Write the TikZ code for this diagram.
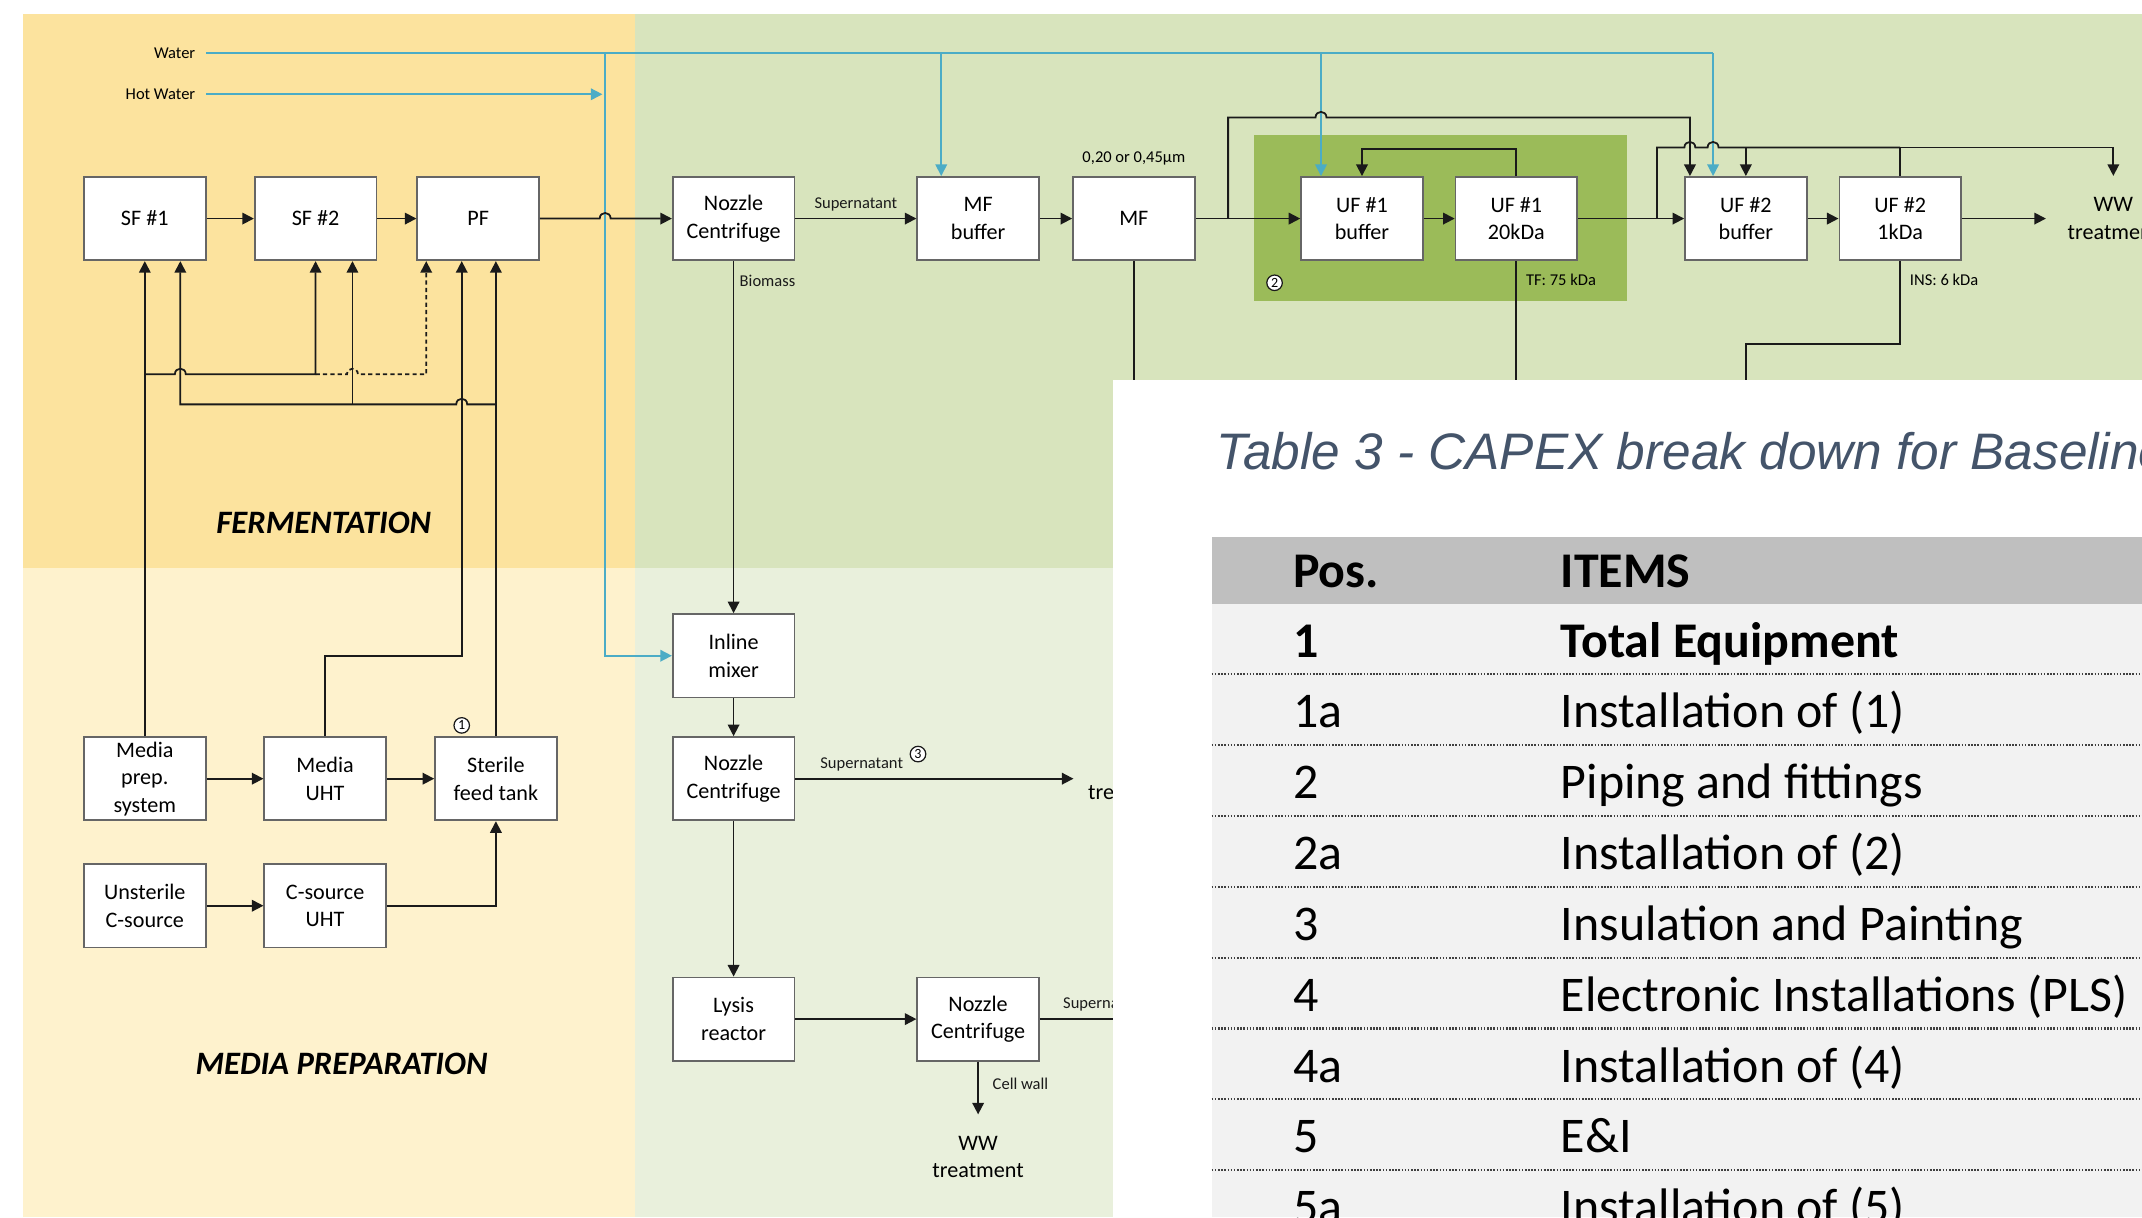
\documentclass[tikz,border=0pt]{standalone}
\usepackage{fontspec}
\setmainfont{Carlito}
\newfontfamily\captionfont{Liberation Sans}
\usetikzlibrary{arrows.meta,positioning}
\definecolor{ferm}{HTML}{FCE39E}
\definecolor{mediabg}{HTML}{FEF2CD}
\definecolor{dsp}{HTML}{D8E4BD}
\definecolor{dspl}{HTML}{E9F0DC}
\definecolor{ufzone}{HTML}{9BBB59}
\definecolor{wtr}{HTML}{4BACC6}
\definecolor{boxline}{HTML}{666666}
\definecolor{ink}{HTML}{1A1A1A}
\definecolor{capt}{HTML}{44546A}
\definecolor{thead}{HTML}{BFBFBF}
\definecolor{trow}{HTML}{F2F2F2}
\tikzset{
  unit/.style={draw=boxline,fill=white,line width=0.5pt,minimum width=34.6pt,minimum height=23.7pt,inner sep=1pt,align=center,font=\fontsize{6.3}{7.8}\selectfont},
  sink/.style={align=center,inner sep=1pt,font=\fontsize{6.3}{7.8}\selectfont},
  arr/.style={-{Triangle[length=3.3pt,width=3.3pt]},line width=0.5pt,color=ink},
  pipe/.style={line width=0.5pt,color=ink},
  wline/.style={line width=0.45pt,color=wtr},
  warr/.style={wline,-{Triangle[length=3.3pt,width=3.3pt]}},
  lbl/.style={font=\fontsize{4.7}{5.5}\selectfont,inner sep=1pt},
  circ/.style={circle,draw=ink,fill=white,line width=0.35pt,inner sep=0.4pt,font=\fontsize{4}{4}\selectfont},
  zone/.style={font=\fontsize{9.3}{11}\selectfont\bfseries\itshape},
  cell/.style={anchor=base west,inner sep=0pt,font=\fontsize{14.2}{16}\selectfont}}

\begin{document}
\begin{tikzpicture}[x=0.01366cm,y=-0.01366cm]
\useasboundingbox (0,0) rectangle (1568,891);
\clip (0,0) rectangle (1568,891);
\fill[white] (0,0) rectangle (1568,891);
% areas
\fill[ferm] (17,10) rectangle (465,416);
\fill[mediabg] (17,416) rectangle (465,891);
\fill[dsp] (465,10) rectangle (1568,416);
\fill[dspl] (465,416) rectangle (1568,891);
\fill[ufzone] (918,99) rectangle (1191,220);
\node[zone] (fermlbl) at (237,383) {FERMENTATION};
\node[zone] (medlbl) at (250,779) {MEDIA PREPARATION};

% process units
\node[unit] (sfa) at (106,160) {SF \#1};
\node[unit] (sfb) at (231,160) {SF \#2};
\node[unit] (pf) at (350,160) {PF};
\node[unit] (ncA) at (537,160) {Nozzle\\Centrifuge};
\node[unit] (mfbuf) at (716,160) {MF\\buffer};
\node[unit] (mf) at (830,160) {MF};
\node[unit] (ufabuf) at (997,160) {UF \#1\\buffer};
\node[unit] (ufa) at (1110,160) {UF \#1\\20kDa};
\node[unit] (ufbbuf) at (1278,160) {UF \#2\\buffer};
\node[unit] (ufb) at (1391,160) {UF \#2\\1kDa};
\node[sink] (wwA) at (1547,160) {WW\\treatment};
\node[unit] (inlmix) at (537,480) {Inline\\mixer};
\node[unit] (ncB) at (537,570) {Nozzle\\Centrifuge};
\node[unit] (lysis) at (537,746) {Lysis\\reactor};
\node[unit] (ncC) at (716,746) {Nozzle\\Centrifuge};
\node[sink] (wwB) at (716,847) {WW\\treatment};
\node[sink] (wwC) at (830,570) {WW\\treatment};
\node[unit] (mprep) at (106,570) {Media\\prep.\\system};
\node[unit] (muht) at (238,570) {Media\\UHT};
\node[unit] (sft) at (363,570) {Sterile\\feed tank};
\node[unit] (ucs) at (106,663) {Unsterile\\C-source};
\node[unit] (csuht) at (238,663) {C-source\\UHT};

% water supply
\node[lbl,anchor=east] (water) at (146,39) {Water};
\node[lbl,anchor=east] (hotw) at (146,69) {Hot Water};
\coordinate (wA) at (443,39);
\coordinate (wB) at (689,39);
\coordinate (wC) at (967,39);
\coordinate (wD) at (1254,39);
\draw[wline] ([xshift=2pt]water.east) -- (wD);
\draw[warr] ([xshift=2pt]hotw.east) -- (441,69);
\draw[warr] (wA) |- (inlmix);
\draw[warr] (wB) -- (wB |- mfbuf.north);
\draw[warr] (wC) -- (wC |- ufabuf.north);
\draw[warr] (wD) -- (wD |- ufbbuf.north);

% main line
\draw[arr] (sfa) -- (sfb);
\draw[arr] (sfb) -- (pf);
\draw[arr] (pf) -- (439,160) .. controls (439,154.5) and (447,154.5) .. (447,160) -- (ncA);
\draw[arr] (ncA) -- node[lbl,above,yshift=1pt] (supA) {Supernatant} (mfbuf);
\draw[arr] (mfbuf) -- (mf);
\draw[arr] (mf) -- (ufabuf);
\draw[arr] (ufabuf) -- (ufa);
\draw[arr] (ufa) -- (ufbbuf);
\draw[arr] (ufbbuf) -- (ufb);
\draw[arr,shorten >=5pt] (ufb) -- (wwA);
\node[lbl] (mfsize) at (830,116) {0,20 or 0,45µm};
\node[lbl,anchor=west] (tfcut) at (1114,205) {TF: 75 kDa};
\node[lbl,anchor=west] (inscut) at (1395,205) {INS: 6 kDa};
\node[circ] (mk2) at (933,207) {2};

% recycles
\coordinate (jMF) at (899,160);
\coordinate (jUF) at (1213,160);
\draw[arr] (jMF) -- (899,86) -- (963,86) .. controls (963,80.5) and (971,80.5) .. (971,86) -| ([xshift=-15.9pt]ufbbuf.north);
\draw[pipe] (jUF) -- (1213,108) -- (1233,108) .. controls (1233,102.5) and (1241,102.5) .. (1241,108) -- (1250,108) .. controls (1250,102.5) and (1258,102.5) .. (1258,108) -- (1391,108);
\draw[arr,shorten >=5pt] (ufb) -- (1391,108) -| (wwA.north);
\draw[arr] (1391,108) -| (ufbbuf.north);
\draw[arr] (ufa) -- (1110,109) -| (ufabuf.north);
\draw[pipe] (mf) -- (830,300);
\draw[pipe] (ufa) -- (1110,300);
\draw[pipe] (ufb) -- (1391,252) -| (1278,300);

% cell line
\draw[arr] (ncA) -- node[lbl,pos=0.055,anchor=west,xshift=0.5pt] (biom) {Biomass} (inlmix);
\draw[arr] (inlmix) -- (ncB);
\draw[arr,shorten >=3pt] (ncB) -- node[lbl,pos=0.23,above,yshift=1pt] (supB) {Supernatant} (wwC);
\node[circ] (mk3) at (672,552) {3};
\draw[arr] (ncB) -- (lysis);
\draw[arr] (lysis) -- (ncC);
\draw[pipe] (ncC) -- node[lbl,pos=0.1,above right,yshift=1pt] (supC) {Supernatant} (900,746);
\draw[arr,shorten >=5pt] (ncC) -- node[lbl,pos=0.31,anchor=west,xshift=2.9pt] (cwall) {Cell wall} (wwB);

% media preparation
\draw[arr] (mprep) -- (muht);
\draw[arr] (muht) -- (sft);
\draw[arr] (ucs) -- (csuht);
\draw[arr] (csuht) -| (sft);
\node[circ] (mk1) at (338,531) {1};

% feeds to fermenters
\coordinate (fa) at (106,274);
\coordinate (fb) at (363,296);
\coordinate (fc) at (258,296);
\coordinate (fd) at (338,480);
\coordinate (fe) at (312,274);
\coordinate (fg) at (132,296);
\draw[arr] (mprep) -- (sfa);
\draw[arr] (fa) -- (128,274) .. controls (128,268.5) and (136,268.5) .. (136,274) -| (sfb.south);
\draw[arr,dash pattern=on 1.2pt off 0.9pt] (231,274) -- (254,274) .. controls (254,268.5) and (262,268.5) .. (262,274) -- (fe) -- (fe |- pf.south);
\draw[arr] (sft) -- (sft |- pf.south);
\draw[arr] (fb) -- (342,296) .. controls (342,290.5) and (334,290.5) .. (334,296) -- (fg) -- (fg |- sfa.south);
\draw[arr] (fc) -- (fc |- sfb.south);
\draw[arr] (muht) |- (fd) -- (fd |- pf.south);

% table overlay
\fill[white] (815,278) rectangle (1568,891);
\node[anchor=base west,inner sep=0pt,text=capt,font=\captionfont\itshape\fontsize{14.6}{16}\selectfont] (tcap) at (890,344) {Table 3 - CAPEX break down for Baseline};
\fill[thead] (887,393) rectangle (1568,442);
\fill[trow] (887,442) rectangle (1568,891);
\node[cell,font=\fontsize{14.2}{16}\selectfont\bfseries] (hpos) at (946,430) {Pos.};
\node[cell,font=\fontsize{14.2}{16}\selectfont\bfseries] (hitem) at (1142,430) {ITEMS};
\node[cell,font=\fontsize{14.2}{16}\selectfont\bfseries] (p0) at (946,481) {1};
\node[cell,font=\fontsize{14.2}{16}\selectfont\bfseries] (t0) at (1142,481) {Total Equipment};
\foreach \ps/\itm [count=\i] in {1a/Installation of (1),2/Piping and fittings,2a/Installation of (2),3/Insulation and Painting,4/Electronic Installations (PLS),4a/Installation of (4),5/E\&I,5a/Installation of (5)}{
  \node[cell] (p\i) at (946,{481+51.85*\i}) {\ps};
  \node[cell] (t\i) at (1142,{481+51.85*\i}) {\itm};
}
\foreach \k in {0,...,7}
  \draw[line width=0.6pt,color=black!75,dash pattern=on 0.45pt off 0.45pt] (887,{493.6+51.85*\k}) -- (1568,{493.6+51.85*\k});
\end{tikzpicture}
\end{document}
